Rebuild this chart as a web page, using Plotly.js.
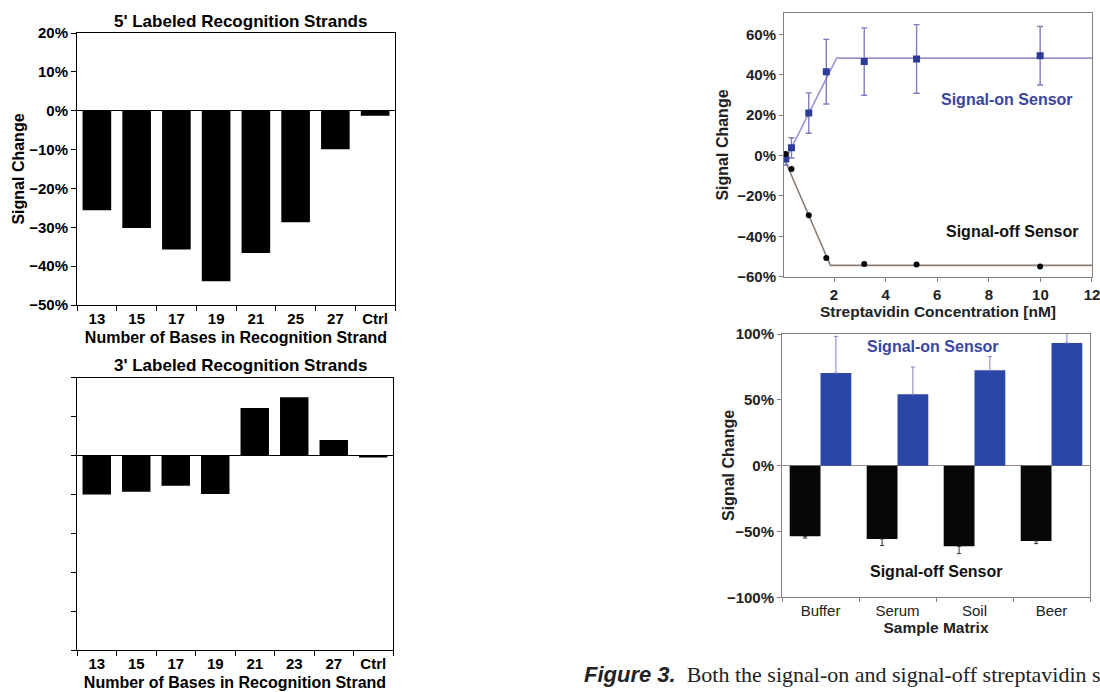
<!DOCTYPE html>
<html>
<head>
<meta charset="utf-8">
<script src="https://cdn.plot.ly/plotly-3.0.1.min.js"></script>
<style>html,body{margin:0;padding:0;background:#fff;}#chart{width:1100px;height:692px;}</style>
</head>
<body>
<div id="chart"></div>
<script>
// ---- Data ----
const cats5 = ['13', '15', '17', '19', '21', '25', '27', 'Ctrl'];
const vals5 = [-25.6, -30.2, -35.7, -43.9, -36.6, -28.7, -9.9, -1.3];

const cats3 = ['13', '15', '17', '19', '21', '23', '27', 'Ctrl'];
const vals3 = [-10.0, -9.3, -7.8, -9.9, 12.2, 15.0, 4.0, -0.5];

const concOn = [0.13, 0.35, 1.02, 1.70, 3.17, 5.20, 9.99];
const sigOn = [-1.7, 3.8, 21.0, 41.5, 46.5, 47.8, 49.4];
const sigOnErr = [3, 5, 10, 16, 16.7, 17, 14.5];
const concOff = [0.13, 0.35, 1.02, 1.70, 3.17, 5.20, 9.99];
const sigOff = [0.8, -6.7, -29.6, -50.7, -53.7, -54.0, -54.9];

const fitOnX = [0.10, 2.10, 12];
const fitOnY = [-2.5, 48.2, 48.2];
const fitOffX = [0.10, 1.86, 12];
const fitOffY = [-2.5, -54.4, -54.4];

const matrices = ['Buffer', 'Serum', 'Soil', 'Beer'];
const matOn = [70.4, 54.2, 72.4, 93.2];
const matOnErr = [27.8, 20.7, 10.6, 10];
const matOff = [-53.7, -55.7, -61.3, -57.2];
const matOffErr = [1.3, 5.0, 5.5, 2.0];

// ---- helpers for pixel -> paper ----
const W = 1100, H = 692;
const px = x => x / W;
const py = y => 1 - y / H;

const SANS = 'Liberation Sans, Arial, sans-serif';
const boldFont = (size, color) => ({family: SANS, size: size, color: color || '#000', weight: 'bold'});

const traces = [
  {type: 'bar', x: cats5, y: vals5, xaxis: 'x', yaxis: 'y', width: 0.72,
   marker: {color: '#000', line: {width: 0}}},
  {type: 'bar', x: cats3, y: vals3, xaxis: 'x2', yaxis: 'y2', width: 0.72,
   marker: {color: '#000', line: {width: 0}}},
  {type: 'scatter', mode: 'lines', x: fitOnX, y: fitOnY, xaxis: 'x3', yaxis: 'y3',
   line: {color: '#9a96d2', width: 1.6}},
  {type: 'scatter', mode: 'lines', x: fitOffX, y: fitOffY, xaxis: 'x3', yaxis: 'y3',
   line: {color: '#8b7d74', width: 1.6}},
  {type: 'scatter', mode: 'markers', x: concOn, y: sigOn, xaxis: 'x3', yaxis: 'y3',
   marker: {symbol: 'square', size: 7, color: '#2c3a98'},
   error_y: {type: 'data', array: sigOnErr, visible: true, color: '#7f7cc0', thickness: 1.4, width: 3}},
  {type: 'scatter', mode: 'markers', x: concOff, y: sigOff, xaxis: 'x3', yaxis: 'y3',
   marker: {symbol: 'circle', size: 6, color: '#050505'}},
  {type: 'bar', x: matrices, y: matOff, xaxis: 'x4', yaxis: 'y4', width: 0.4, offset: -0.4,
   marker: {color: '#070707', line: {width: 0}},
   error_y: {type: 'data', symmetric: false, array: [0, 0, 0, 0], arrayminus: matOffErr, visible: true,
             color: '#333', thickness: 1, width: 2}},
  {type: 'bar', x: matrices, y: matOn, xaxis: 'x4', yaxis: 'y4', width: 0.4, offset: 0,
   marker: {color: '#2a46a6', line: {width: 0}},
   error_y: {type: 'data', symmetric: false, array: matOnErr, arrayminus: [0, 0, 0, 0], visible: true,
             color: '#8a80c2', thickness: 1, width: 2}}
];

const leftX = (dom, anchor) => ({
  domain: dom, anchor: anchor, type: 'category', tickson: 'boundaries',
  ticks: 'outside', ticklen: 5, tickwidth: 1, tickcolor: '#000',
  showline: true, linecolor: '#000', linewidth: 1, mirror: true,
  showgrid: false, tickfont: boldFont(15),
  title: {text: 'Number of Bases in Recognition Strand', font: boldFont(16), standoff: 5}
});
const leftY = (dom, anchor, labels) => ({
  domain: dom, anchor: anchor, range: [-50, 20], dtick: 10, tick0: 0,
  ticks: 'outside', ticklen: 5, tickcolor: '#000', ticksuffix: '%',
  showticklabels: labels, showline: true, linecolor: '#000', linewidth: 1, mirror: true,
  showgrid: false, zeroline: true, zerolinecolor: '#000', zerolinewidth: 1,
  tickfont: boldFont(15),
  title: labels ? {text: 'Signal Change', font: boldFont(16), standoff: 0} : {text: ''}
});

const FRAME = '#8a7f78';
const layout = {
  width: W, height: H,
  margin: {l: 0, r: 0, t: 0, b: 0},
  paper_bgcolor: '#fff', plot_bgcolor: '#fff',
  showlegend: false, barmode: 'overlay',
  xaxis: leftX([px(77), px(395)], 'y'),
  yaxis: leftY([py(305), py(33)], 'x', true),
  xaxis2: leftX([px(77), px(393)], 'y2'),
  yaxis2: leftY([py(650), py(377.7)], 'x2', false),
  xaxis3: {
    domain: [px(784), px(1092)], anchor: 'y3', range: [0.06, 12.001], dtick: 2, tick0: 0,
    ticks: 'outside', ticklen: 4, tickcolor: FRAME, showline: true, linecolor: FRAME, mirror: true,
    showgrid: false, zeroline: false, tickfont: boldFont(15, '#222'), ticklabeloverflow: 'allow',
    title: {text: 'Streptavidin Concentration [nM]', font: boldFont(15.5, '#222'), standoff: 4}
  },
  yaxis3: {
    domain: [py(276.7), py(13.3)], anchor: 'x3', range: [-60, 70.4], dtick: 20, tick0: 0,
    ticks: 'outside', ticklen: 4, tickcolor: FRAME, ticksuffix: '%',
    showline: true, linecolor: FRAME, mirror: true, showgrid: false, zeroline: false,
    tickfont: boldFont(15, '#222'),
    title: {text: 'Signal Change', font: boldFont(16, '#222'), standoff: 4}
  },
  xaxis4: {
    domain: [px(782), px(1090)], anchor: 'y4', type: 'category', tickson: 'boundaries',
    ticks: 'outside', ticklen: 4, tickcolor: FRAME, showline: true, linecolor: FRAME, mirror: true,
    showgrid: false, tickfont: {family: SANS, size: 15, color: '#222'},
    title: {text: 'Sample Matrix', font: boldFont(15.5, '#222'), standoff: 0}
  },
  yaxis4: {
    domain: [py(597.3), py(334)], anchor: 'x4', range: [-100, 100], dtick: 50, tick0: 0,
    ticks: 'outside', ticklen: 4, tickcolor: FRAME, ticksuffix: '%',
    showline: true, linecolor: FRAME, mirror: true, showgrid: false,
    zeroline: true, zerolinecolor: '#9a8a80', zerolinewidth: 1,
    tickfont: boldFont(15, '#222'),
    title: {text: ''}
  },
  annotations: [
    {xref: 'paper', yref: 'paper', x: px(240), y: py(21), text: "5' Labeled Recognition Strands",
     showarrow: false, font: boldFont(17), xanchor: 'center', yanchor: 'middle'},
    {xref: 'paper', yref: 'paper', x: px(240), y: py(365), text: "3' Labeled Recognition Strands",
     showarrow: false, font: boldFont(17), xanchor: 'center', yanchor: 'middle'},
    {xref: 'paper', yref: 'paper', x: px(1007), y: py(99), text: 'Signal-on Sensor',
     showarrow: false, font: boldFont(16, '#3a46a0'), xanchor: 'center', yanchor: 'middle'},
    {xref: 'paper', yref: 'paper', x: px(1012), y: py(232), text: 'Signal-off Sensor',
     showarrow: false, font: boldFont(16, '#111'), xanchor: 'center', yanchor: 'middle'},
    {xref: 'paper', yref: 'paper', x: px(933), y: py(347), text: 'Signal-on Sensor',
     showarrow: false, font: boldFont(16, '#3a46a0'), xanchor: 'center', yanchor: 'middle'},
    {xref: 'paper', yref: 'paper', x: px(936), y: py(571), text: 'Signal-off Sensor',
     showarrow: false, font: boldFont(16, '#111'), xanchor: 'center', yanchor: 'middle'},
    {xref: 'paper', yref: 'paper', x: px(728), y: py(466), text: 'Signal Change', textangle: -90,
     showarrow: false, font: boldFont(16, '#222'), xanchor: 'center', yanchor: 'middle'},
    {xref: 'paper', yref: 'paper', x: px(582), y: py(674), xanchor: 'left', yanchor: 'middle',
     showarrow: false,
     text: '<span style="font-family:Liberation Sans"><b><i>Figure 3.</i></b></span>  Both the signal-on and signal-off streptavidin s',
     font: {family: 'Liberation Serif, Times New Roman, serif', size: 22, color: '#222'}}
  ]
};

Plotly.newPlot('chart', traces, layout, {staticPlot: true, displayModeBar: false});
</script>
</body>
</html>
